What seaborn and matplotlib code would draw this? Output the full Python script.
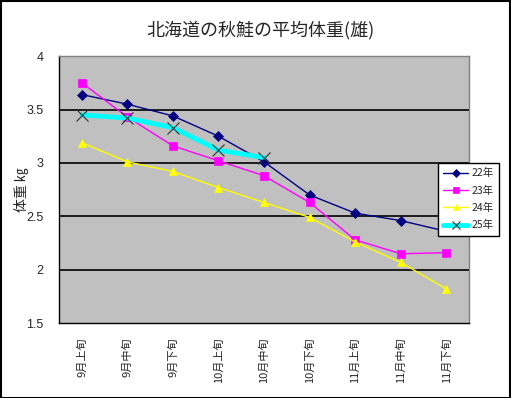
import matplotlib
matplotlib.use('Agg')
import matplotlib.pyplot as plt
import seaborn as sns
import pandas as pd

sns.set_style('white')
plt.rcParams['font.family'] = ['Noto Sans CJK JP', 'DejaVu Sans']

categories = ['9月上旬', '9月中旬', '9月下旬', '10月上旬', '10月中旬',
              '10月下旬', '11月上旬', '11月中旬', '11月下旬']
y22 = [3.64, 3.55, 3.44, 3.25, 3.01, 2.70, 2.53, 2.46, 2.36]
y23 = [3.75, 3.43, 3.16, 3.02, 2.88, 2.63, 2.28, 2.15, 2.16]
y24 = [3.19, 3.01, 2.92, 2.77, 2.63, 2.49, 2.26, 2.07, 1.82]
y25 = [3.45, 3.42, 3.33, 3.12, 3.05]

series = [
    ('22年', y22, '#000080', 'D', 1, 5),
    ('23年', y23, '#FF00FF', 's', 1, 6),
    ('24年', y24, '#FFFF00', '^', 1, 6),
    ('25年', y25, '#00FFFF', 'x', 3.5, 8),
]

fig = plt.figure(figsize=(5.11, 3.98), dpi=100)
ax = fig.add_axes([0.1155, 0.188, 0.8025, 0.671])
ax.set_facecolor('#C0C0C0')

for name, vals, col, mk, lw, ms in series:
    df = pd.DataFrame({'x': range(len(vals)), 'y': vals})
    mec = '#303030' if mk == 'x' else col
    sns.lineplot(data=df, x='x', y='y', ax=ax, color=col, marker=mk,
                 linewidth=lw, markersize=ms, markeredgecolor=mec,
                 markeredgewidth=0.8 if mk == 'x' else 0.5, label=name)

ax.set_xlim(-0.5, len(categories) - 0.5)
ax.set_ylim(1.5, 4)
ax.set_yticks([1.5, 2, 2.5, 3, 3.5, 4])
ax.set_yticklabels(['1.5', '2', '2.5', '3', '3.5', '4'], fontsize=9,
                   family=['Liberation Sans', 'DejaVu Sans'])
ax.set_xticks([i - 0.5 for i in range(len(categories) + 1)])
ax.set_xticklabels([])
ax.set_xticks(range(len(categories)), minor=True)
ax.set_xticklabels(categories, minor=True, rotation=90, fontsize=8)
ax.tick_params(axis='x', which='minor', length=0, pad=10)
ax.tick_params(axis='x', which='major', length=5, width=1, color='black', direction='out')
ax.tick_params(axis='y', length=5, width=1, color='black', direction='out', pad=6)
for y in [2, 2.5, 3, 3.5]:
    ax.axhline(y, color='black', linewidth=1.2, zorder=0.5)
for sp in ax.spines.values():
    sp.set_color('#808080')
    sp.set_linewidth(1)
ax.spines['left'].set_color('black')
ax.spines['bottom'].set_color('black')

ax.set_xlabel('')
ax.set_ylabel('体重 ㎏', fontsize=10)
ax.yaxis.set_label_coords(-0.073, 0.5)
fig.text(0.51, 0.925, '北海道の秋鮭の平均体重(雄)', ha='center', va='center', fontsize=13)

leg = ax.legend(loc='upper left', bbox_to_anchor=(0.924, 0.60), fontsize=7.5,
                frameon=True, fancybox=False, edgecolor='black', framealpha=1,
                borderaxespad=0, handlelength=2.4, handletextpad=0.3,
                borderpad=0.5, labelspacing=0.7, markerscale=0.8)
leg.get_frame().set_linewidth(1)

fig.patches.append(plt.Rectangle((0.001, 0.001), 0.997, 0.997, transform=fig.transFigure,
                                 fill=False, edgecolor='black', linewidth=1.5))

fig.savefig('out.png', dpi=100)
